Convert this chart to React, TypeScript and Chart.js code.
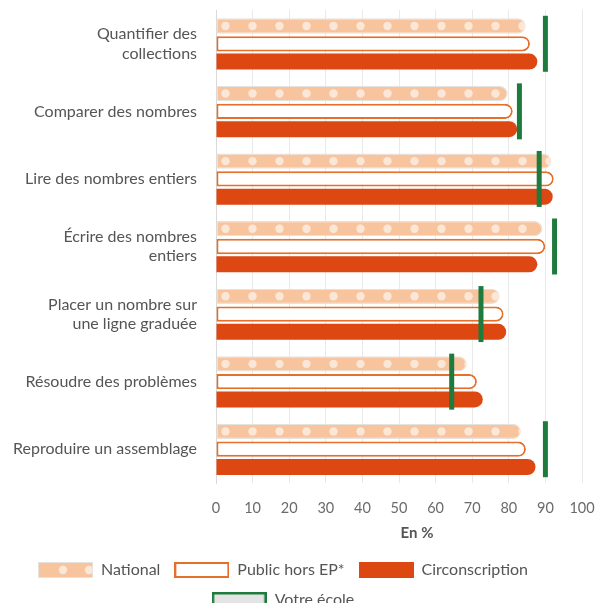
import React, { useEffect, useRef } from 'react';
import { Chart, registerables } from 'chart.js';

Chart.register(...registerables);

const categories: (string | string[])[] = [
  ['Quantifier des', 'collections'],
  'Comparer des nombres',
  'Lire des nombres entiers',
  ['Écrire des nombres', 'entiers'],
  ['Placer un nombre sur', 'une ligne graduée'],
  'Résoudre des problèmes',
  'Reproduire un assemblage',
];

const seriesNames = ['National', 'Public hors EP*', 'Circonscription', 'Votre école'];

const nationalValues = [84.6, 79.7, 91.6, 89.2, 77.5, 68.5, 83.3];
const publicValues = [85.8, 81.1, 92.3, 90.0, 78.6, 71.3, 84.7];
const circonscriptionValues = [87.8, 82.3, 92.0, 87.8, 79.3, 72.9, 87.3];
const ecoleValues = [90.0, 82.9, 88.3, 92.5, 72.4, 64.4, 90.0];

const xMin = 0;
const xMax = 100;
const xStep = 10;
const xTitle = 'En %';

const FONT = 'Lato, "Noto Sans", sans-serif';
const NAT_FILL = '#f8c49e';
const NAT_DOT = '#fbe7d8';
const NAT_BORDER = '#e6e2de';
const PUB_BORDER = '#e5702a';
const CIRC_FILL = '#dc4712';
const GREEN = '#1f7a3e';

function makeSwatch(kind: number): HTMLCanvasElement {
  const c = document.createElement('canvas');
  c.width = 55;
  c.height = 16;
  const ctx = c.getContext('2d')!;
  if (kind === 0) {
    ctx.fillStyle = NAT_FILL;
    ctx.fillRect(0, 0, 55, 16);
    ctx.fillStyle = NAT_DOT;
    [25, 51].forEach((cx) => {
      ctx.beginPath();
      ctx.arc(cx, 8, 4.2, 0, Math.PI * 2);
      ctx.fill();
    });
    ctx.strokeStyle = NAT_BORDER;
    ctx.lineWidth = 1;
    ctx.strokeRect(0.5, 0.5, 54, 15);
  } else if (kind === 1) {
    ctx.fillStyle = '#ffffff';
    ctx.fillRect(0, 0, 55, 16);
    ctx.strokeStyle = PUB_BORDER;
    ctx.lineWidth = 2;
    ctx.strokeRect(1, 1, 53, 14);
  } else if (kind === 2) {
    ctx.fillStyle = CIRC_FILL;
    ctx.fillRect(0, 0, 55, 16);
  } else {
    ctx.fillStyle = '#e4e4e4';
    ctx.fillRect(0, 0, 55, 16);
    ctx.strokeStyle = GREEN;
    ctx.lineWidth = 2.5;
    ctx.strokeRect(1.25, 1.25, 52.5, 13.5);
  }
  return c;
}

const dotsPlugin = {
  id: 'nationalDots',
  afterDatasetDraw(chart: any, args: any) {
    if (args.index !== 0) return;
    const ctx = chart.ctx;
    const meta = chart.getDatasetMeta(0);
    meta.data.forEach((bar: any) => {
      const { x, y, base, height } = bar.getProps(['x', 'y', 'base', 'height'], true);
      const h = height;
      const r = h / 2;
      ctx.save();
      ctx.beginPath();
      ctx.moveTo(base, y - h / 2);
      ctx.lineTo(x - r, y - h / 2);
      ctx.arc(x - r, y, r, -Math.PI / 2, Math.PI / 2);
      ctx.lineTo(base, y + h / 2);
      ctx.closePath();
      ctx.clip();
      ctx.fillStyle = NAT_DOT;
      for (let cx = base + 9; cx - 4.2 < x; cx += 27) {
        ctx.beginPath();
        ctx.arc(cx, y, 4.2, 0, Math.PI * 2);
        ctx.fill();
      }
      ctx.restore();
    });
  },
};

const layoutTweakPlugin = {
  id: 'layoutTweak',
  afterLayout(chart: any) {
    const lg = chart.legend;
    if (lg) {
      lg.left -= 8;
      lg.right -= 8;
    }
    const xs = chart.scales.x;
    if (xs && !xs.__titlePatched) {
      const orig = xs.drawTitle.bind(xs);
      xs.drawTitle = function () {
        const l = this.left;
        this.left = l + 36;
        orig();
        this.left = l;
      };
      xs.__titlePatched = true;
    }
  },
};

export default function App() {
  const ref = useRef<HTMLCanvasElement | null>(null);

  useEffect(() => {
    document.body.style.margin = '0';
    const canvas = ref.current;
    if (!canvas) return;
    const swatches = [0, 1, 2, 3].map(makeSwatch);
    const endRadius = { topLeft: 0, bottomLeft: 0, topRight: 8, bottomRight: 8 };

    const chart = new Chart(canvas, {
      type: 'bar',
      data: {
        labels: categories,
        datasets: [
          {
            label: seriesNames[0],
            data: nationalValues,
            backgroundColor: NAT_FILL,
            borderColor: NAT_BORDER,
            borderWidth: 1.2,
            borderSkipped: false,
            borderRadius: endRadius,
            categoryPercentage: 0.79,
            barPercentage: 0.86,
          } as any,
          {
            label: seriesNames[1],
            data: publicValues,
            backgroundColor: '#ffffff',
            borderColor: PUB_BORDER,
            borderWidth: 2,
            borderSkipped: false,
            borderRadius: endRadius,
            categoryPercentage: 0.79,
            barPercentage: 0.86,
          } as any,
          {
            label: seriesNames[2],
            data: circonscriptionValues,
            backgroundColor: CIRC_FILL,
            borderWidth: 0,
            borderSkipped: false,
            borderRadius: endRadius,
            categoryPercentage: 0.79,
            barPercentage: 0.9,
          } as any,
          {
            type: 'line',
            label: seriesNames[3],
            data: ecoleValues,
            indexAxis: 'y',
            showLine: false,
            order: -1,
            pointStyle: 'line',
            pointRotation: 90,
            pointRadius: 28,
            pointHoverRadius: 28,
            pointBorderWidth: 5,
            pointBorderColor: GREEN,
            borderColor: GREEN,
            backgroundColor: GREEN,
            clip: false,
          } as any,
        ],
      },
      options: {
        indexAxis: 'y',
        responsive: false,
        animation: false,
        devicePixelRatio: 1,
        layout: { autoPadding: false, padding: { top: 10, right: 26, left: 0, bottom: 0 } },
        scales: {
          x: {
            type: 'linear',
            min: xMin,
            max: xMax,
            ticks: {
              stepSize: xStep,
              padding: 17,
              color: '#6b6b6b',
              font: { family: FONT, size: 14.5 },
            },
            grid: { color: '#e9e9e9', drawTicks: false, lineWidth: 1 },
            border: { display: false },
            title: {
              display: true,
              text: xTitle,
              color: '#555555',
              font: { family: FONT, size: 15, weight: 'bold' },
              padding: { top: 9, bottom: 6 },
            },
            afterFit(scale: any) {
              scale.paddingLeft = 0;
              scale.paddingRight = 0;
              scale.height = 65;
            },
          },
          y: {
            type: 'category',
            grid: { display: false, drawTicks: false },
            border: { display: true, color: '#d9d9d9', width: 1 },
            ticks: {
              padding: 19,
              color: '#555555',
              font: { family: FONT, size: 16, lineHeight: 1.2 },
            },
            afterFit(scale: any) {
              scale.width = 216;
              scale.paddingTop = 0;
              scale.paddingBottom = 0;
            },
          },
        },
        plugins: {
          tooltip: { enabled: false },
          legend: {
            display: true,
            position: 'bottom',
            align: 'center',
            labels: {
              usePointStyle: true,
              pointStyleWidth: 55,
              boxHeight: 16,
              padding: 14,
              color: '#555555',
              font: { family: FONT, size: 16 },
              generateLabels: () =>
                seriesNames.map((name, i) => ({
                  text: name,
                  pointStyle: swatches[i],
                  datasetIndex: i,
                  hidden: false,
                  fillStyle: 'rgba(0,0,0,0)',
                  strokeStyle: 'rgba(0,0,0,0)',
                  lineWidth: 0,
                  fontColor: '#555555',
                })),
            },
          },
        },
      },
      plugins: [dotsPlugin, layoutTweakPlugin],
    } as any);

    return () => chart.destroy();
  }, []);

  return <canvas ref={ref} width={608} height={618} style={{ display: 'block', width: 608, height: 618 }} />;
}
